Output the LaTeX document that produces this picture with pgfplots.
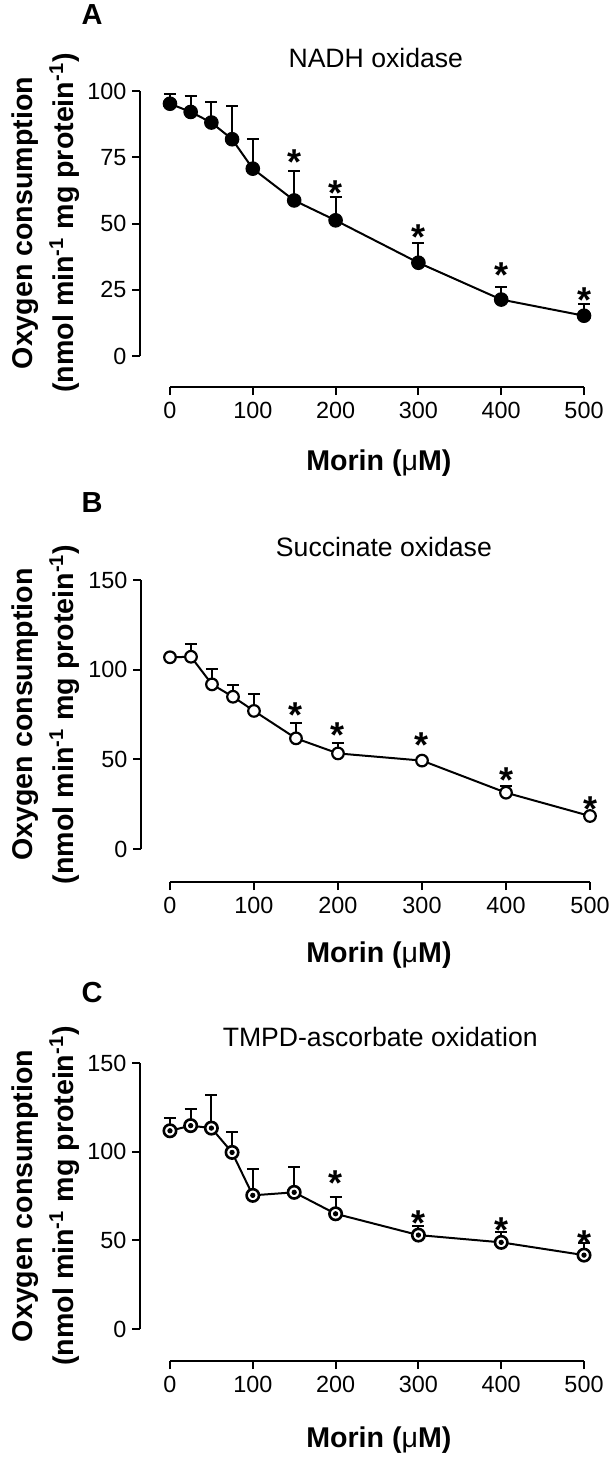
\documentclass[border=0pt]{standalone}
\usepackage{fontspec}
\setmainfont{Liberation Sans}
\usepackage{pgfplots}
\usepackage{pgfplotstable}
\pgfplotsset{compat=1.18}

% Mean oxygen consumption with upper SEM, per morin concentration
\pgfplotstableread{
x   y     e
0   95.2  3.5
25  92.1  6.0
50  88.1  7.7
75  81.8  12.4
100 70.7  11.2
150 58.7  11.1
200 51.2  8.8
300 35.2  7.4
400 21.3  4.7
500 15.2  4.3
}\nadhdata
\pgfplotstableread{
x   y
150 76.4
200 64.7
300 48.3
400 33.6
500 24.4
}\nadhstars

\pgfplotstableread{
x   y     e
0   106.9 0
25  107.2 6.9
50  91.8  8.6
75  84.9  6.5
100 77.0  9.4
150 61.7  8.7
200 53.3  5.6
300 49.3  0
400 31.4  3.9
500 18.4  0
}\succdata
\pgfplotstableread{
x   y
150 79.4
200 68.2
300 62.6
400 43.1
500 27.3
}\succstars

\pgfplotstableread{
x   y     e
0   111.8 7.2
25  114.7 9.4
50  113.3 18.5
75  99.6  11.5
100 75.4  14.8
150 77.1  14.3
200 65.0  9.2
300 53.0  4.9
400 48.9  5.6
500 41.7  6.8
}\tmpddata
\pgfplotstableread{
x   y
200 87.0
300 64.5
400 60.7
500 53.2
}\tmpdstars

\pgfplotsset{
  prism/.style={
    scale only axis, clip=false,
    axis line style={draw=none},
    tick pos=left, tick align=outside,
    major tick length=4pt,
    tick style={black, line width=1pt},
    xtick={0,100,...,500},
    xmax=500,
    ticklabel style={font=\fontsize{11.7}{11.7}\selectfont},
    yticklabel style={inner sep=2.6pt},
    /pgf/number format/assume math mode=true,
    label style={font=\fontsize{14.3}{20.5}\selectfont\bfseries},
    title style={font=\fontsize{13.3}{13.3}\selectfont, anchor=center},
    ylabel={Oxygen consumption\\(nmol min\textsuperscript{-1} mg protein\textsuperscript{-1})},
    xlabel={Morin ({\mdseries μ}M)},
    ylabel style={align=center, anchor=center},
    xlabel style={anchor=center},
  },
  errs/.style={only marks, mark=none, forget plot,
    error bars/.cd, y dir=plus, y explicit,
    error bar style={black, line width=1pt},
    error mark options={rotate=90, mark size=3pt, line width=1pt, black}},
  curve/.style={black, line width=1pt},
  stars/.style={only marks, mark=none, nodes near coords={*},
    every node near coord/.append style={font=\fontsize{18}{18}\selectfont\bfseries,
      anchor=base, yshift=-10.5pt, inner sep=0pt}},
}
\tikzset{letter/.style={font=\fontsize{14.5}{14.5}\selectfont\bfseries}}

\begin{document}
\begin{tikzpicture}
\useasboundingbox (0,0) rectangle (305pt,-728.5pt);

% A: NADH oxidase
\begin{axis}[prism,
  at={(70pt,-45.5pt)}, anchor=north west,
  width=222pt, height=148pt,
  xmin=-36.2, ymin=-11.7, ymax=100,
  ytick={0,25,...,100},
  title={NADH oxidase},
  title style={at={(axis description cs:0.531,1)}, yshift=10.75pt},
  xlabel style={at={(axis description cs:0.538,0)}, yshift=-38pt},
  ylabel style={at={(axis description cs:-0.212,0.554)}},
]
\draw[line width=1pt] (axis cs:-36.2,0) -- (axis cs:-36.2,100);
\draw[line width=1pt] (axis cs:0,-11.7) -- (axis cs:500,-11.7);
\addplot[errs] table[x=x, y=y, y error=e] {\nadhdata};
\addplot[curve, mark=*, mark options={fill=black, line width=0.5pt, mark size=3.4pt}] table[x=x, y=y] {\nadhdata};
\addplot[stars] table[x=x, y=y] {\nadhstars};
\end{axis}

% B: succinate oxidase
\begin{axis}[prism,
  at={(70.5pt,-290pt)}, anchor=north west,
  width=224.5pt, height=151pt,
  xmin=-34.5, ymin=-18.4, ymax=150,
  ytick={0,50,100,150},
  title={Succinate oxidase},
  title style={at={(axis description cs:0.541,1)}, yshift=10.5pt},
  xlabel style={at={(axis description cs:0.53,0)}, yshift=-36.5pt},
  ylabel style={at={(axis description cs:-0.212,0.555)}},
]
\draw[line width=1pt] (axis cs:-34.5,0) -- (axis cs:-34.5,150);
\draw[line width=1pt] (axis cs:0,-18.4) -- (axis cs:500,-18.4);
\addplot[errs] table[x=x, y=y, y error=e] {\succdata};
\addplot[curve, mark=*, mark options={fill=white, draw=black, line width=1.1pt, mark size=2.9pt}] table[x=x, y=y] {\succdata};
\addplot[stars] table[x=x, y=y] {\succstars};
\end{axis}

% C: TMPD-ascorbate oxidation
\begin{axis}[prism,
  at={(70pt,-531.5pt)}, anchor=north west,
  width=222pt, height=149pt,
  xmin=-36.2, ymin=-18.0, ymax=150,
  ytick={0,50,100,150},
  title={TMPD-ascorbate oxidation},
  title style={at={(axis description cs:0.541,1)}, yshift=7pt},
  xlabel style={at={(axis description cs:0.538,0)}, yshift=-39.5pt},
  ylabel style={at={(axis description cs:-0.212,0.554)}},
]
\draw[line width=1pt] (axis cs:-36.2,0) -- (axis cs:-36.2,150);
\draw[line width=1pt] (axis cs:0,-18.0) -- (axis cs:500,-18.0);
\addplot[errs] table[x=x, y=y, y error=e] {\tmpddata};
\addplot[curve, mark=*, mark options={fill=white, draw=black, line width=1.3pt, mark size=3.1pt}] table[x=x, y=y] {\tmpddata};
\addplot[only marks, mark=*, mark options={fill=black, draw=black, mark size=1.1pt}, forget plot] table[x=x, y=y] {\tmpddata};
\addplot[stars] table[x=x, y=y] {\tmpdstars};
\end{axis}

\node[letter] at (46pt,-7.5pt) {A};
\node[letter] at (46pt,-251.5pt) {B};
\node[letter] at (46pt,-496.5pt) {C};
\end{tikzpicture}
\end{document}
